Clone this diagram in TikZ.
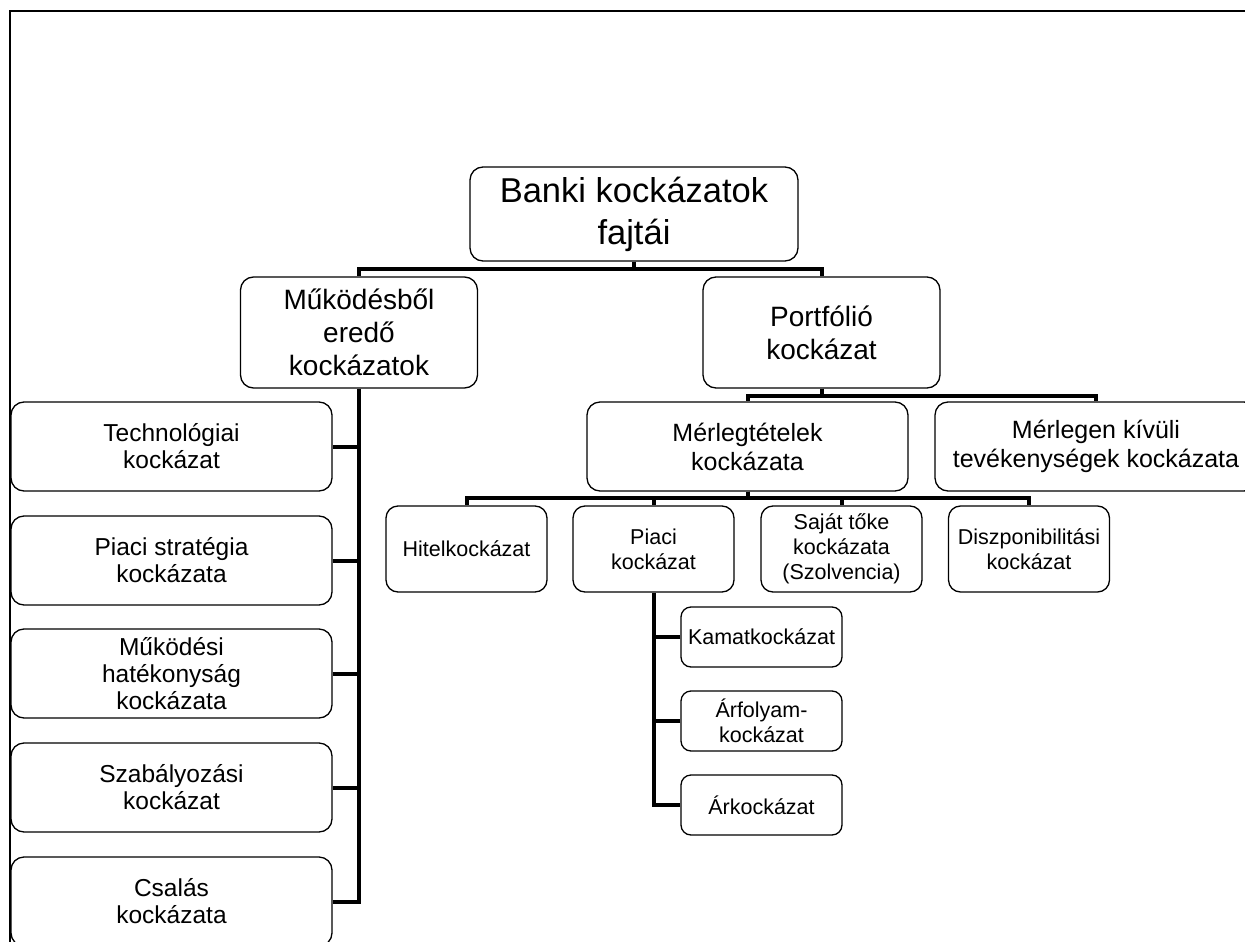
\documentclass[tikz,border=0pt]{standalone}
\usepackage{fontspec}
\setmainfont{Liberation Sans}
\begin{document}
\begin{tikzpicture}[x=1pt,y=-1pt,
  box/.style={draw=black, line width=1.3pt, rounded corners=13pt, inner sep=0pt, align=center, fill=white},
  conn/.style={draw=black, line width=4pt, line join=miter, line cap=butt},
  lvA/.style={font=\fontsize{34.5}{42}\selectfont},
  lvB/.style={font=\fontsize{28}{33}\selectfont},
  lvC/.style={font=\fontsize{25}{29}\selectfont},
  lvD/.style={font=\fontsize{24.5}{27}\selectfont},
  lvE/.style={font=\fontsize{21.5}{25}\selectfont},
]
\useasboundingbox (0,0) rectangle (1245,942);
\clip (0,0) rectangle (1245,942);
\fill[white] (0,0) rectangle (1245,942);
\draw[line width=2pt] (1260,11) -- (10,11) -- (10,960);

% nodes
\node[box,lvA,minimum width=328,minimum height=94] (root) at (634,214) {Banki kockázatok\\fajtái};
\node[box,lvB,minimum width=237,minimum height=111] (mk) at (359,332.5) {Működésből\\eredő\\kockázatok};
\node[box,lvB,minimum width=237,minimum height=111] (pf) at (821.5,332.5) {Portfólió\\kockázat};
\node[box,lvC,minimum width=321,minimum height=89] (mt) at (747.5,446.5) {Mérlegtételek\\kockázata};
\node[box,lvC,minimum width=322,minimum height=89] (mkv) at (1096,446.5) {Mérlegen kívüli\\tevékenységek kockázata};

\node[box,lvD,minimum width=321,minimum height=89] (tech) at (171.5,446.5) {Technológiai\\kockázat};
\node[box,lvD,minimum width=321,minimum height=89] (strat) at (171.5,560.5) {Piaci stratégia\\kockázata};
\node[box,lvD,minimum width=321,minimum height=89] (hat) at (171.5,673.5) {Működési\\hatékonyság\\kockázata};
\node[box,lvD,minimum width=321,minimum height=89] (szab) at (171.5,787.5) {Szabályozási\\kockázat};
\node[box,lvD,minimum width=321,minimum height=89] (csal) at (171.5,901.5) {Csalás\\kockázata};

\node[box,lvE,rounded corners=12pt,minimum width=161,minimum height=86] (hitel) at (466.5,549) {Hitelkockázat};
\node[box,lvE,rounded corners=12pt,minimum width=161,minimum height=86] (piaci) at (653.5,549) {Piaci\\kockázat};
\node[box,lvE,rounded corners=12pt,minimum width=161,minimum height=86] (sajat) at (841.5,549) {Saját tőke\\kockázata\\(Szolvencia)};
\node[box,lvE,rounded corners=12pt,minimum width=161,minimum height=86] (diszp) at (1029,549) {Diszponibilitási\\kockázat};

\node[box,lvE,rounded corners=10pt,minimum width=161,minimum height=60] (kamat) at (761.5,637) {Kamatkockázat};
\node[box,lvE,rounded corners=10pt,minimum width=161,minimum height=60] (arf) at (761.5,721) {Árfolyam-\\kockázat};
\node[box,lvE,rounded corners=10pt,minimum width=161,minimum height=60] (ark) at (761.5,805) {Árkockázat};

% connectors
\draw[conn] (root.south) -- ++(0,7) -| (mk.north);
\draw[conn] (root.south) -- ++(0,7) -| (pf.north);

\draw[conn] (mk.south) |- (csal.east);
\draw[conn] (tech.east) -- (tech.east -| mk.south);
\draw[conn] (strat.east) -- (strat.east -| mk.south);
\draw[conn] (hat.east) -- (hat.east -| mk.south);
\draw[conn] (szab.east) -- (szab.east -| mk.south);

\draw[conn] (pf.south) -- ++(0,7) -| (mt.north);
\draw[conn] (pf.south) -- ++(0,7) -| (mkv.north);

\draw[conn] (mt.south) -- ++(0,6) -| (hitel.north);
\draw[conn] (mt.south) -- ++(0,6) -| (piaci.north);
\draw[conn] (mt.south) -- ++(0,6) -| (sajat.north);
\draw[conn] (mt.south) -- ++(0,6) -| (diszp.north);

\draw[conn] (piaci.south) |- (ark.west);
\draw[conn] (kamat.west) -- (kamat.west -| piaci.south);
\draw[conn] (arf.west) -- (arf.west -| piaci.south);
\end{tikzpicture}
\end{document}
